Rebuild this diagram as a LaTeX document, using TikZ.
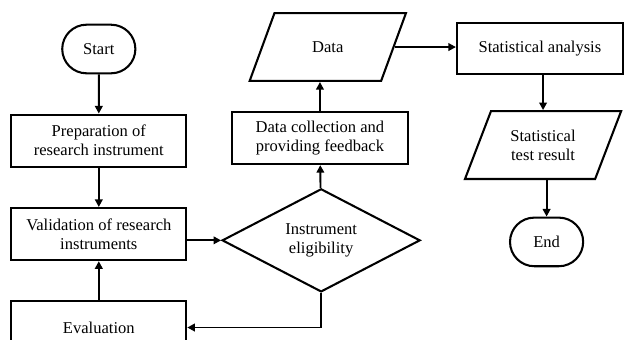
\documentclass[tikz,border=0pt]{standalone}
\usepackage{fontspec}
\setmainfont{Liberation Serif}
\usepackage{tikz}
\usetikzlibrary{positioning, arrows.meta, shapes.geometric, shapes.misc}

\begin{document}
\begin{tikzpicture}[
  node distance=1cm,
  font=\fontsize{12}{13.8}\selectfont,
  box/.style={rectangle, draw, line width=1.5pt, minimum width=4.46cm, minimum height=1.33cm, align=center},
  term/.style={rounded rectangle, draw, line width=1.5pt, minimum width=2.1cm, minimum height=1.24cm},
  io/.style={trapezium, trapezium left angle=65, trapezium right angle=115, trapezium stretches=true,
    draw, line width=1.5pt, minimum width=4cm, minimum height=1.73cm, align=center},
  decide/.style={diamond, draw, line width=1.5pt, aspect=1.9, minimum width=5.05cm, minimum height=2.63cm, inner sep=1pt, align=center},
  arrow/.style={-{Triangle[length=5.5pt, width=5.5pt]}, line width=1.4pt}
]
  \useasboundingbox (0,0) rectangle (15.94,-8.67);

  \node[term] (start) at (2.52,-1.25) {Start};
  \node[box, below=of start] (prep) {Preparation of\\research instrument};
  \node[box, below=of prep] (valid) {Validation of research\\instruments};
  \node[box, below=of valid] (eval) {Evaluation};

  \node[decide] (elig) at (8.19,-6.13) {Instrument\\eligibility};
  \node[box, minimum width=4.49cm] (collect) at (8.16,-3.52) {Data collection and\\providing feedback};
  \node[io] (data) at (8.36,-1.20) {Data};

  \node[box, minimum width=4.23cm, minimum height=1.3cm] (stat) at (13.77,-1.24) {Statistical analysis};
  \node[io] (result) at (13.85,-3.70) {Statistical\\test result};
  \node[term] (stop) at (13.94,-6.17) {End};

  \draw[arrow] (start) -- (prep);
  \draw[arrow] (prep) -- (valid);
  \draw[arrow] (eval) -- (valid);
  \draw[arrow] (valid.east |- elig.west) -- (elig.west);
  \draw[arrow] (elig.south) |- (eval.east);
  \draw[arrow] (elig) -- (collect);
  \draw[arrow] (collect.north) -- (collect.north |- data.south);
  \draw[arrow] (data.east) -- (data.east -| stat.west);
  \draw[arrow] (stat.south -| result.north) -- (result.north);
  \draw[arrow] (result.south -| stop.north) -- (stop.north);
\end{tikzpicture}
\end{document}
